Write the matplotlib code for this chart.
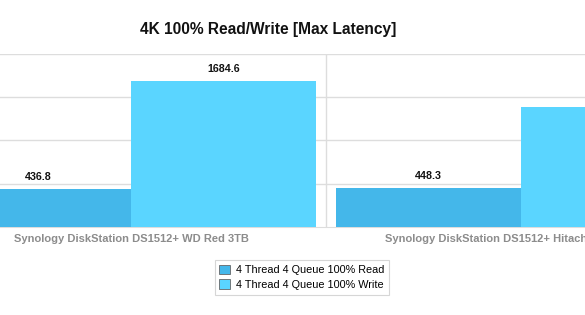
import matplotlib.pyplot as plt

# données
categories = ['Synology DiskStation DS1512+ WD Red 3TB',
              'Synology DiskStation DS1512+ Hitachi 7K3000 3TB']
read_values = [436.8, 448.3]
write_values = [1684.6, 1384.0]
series_names = ['4 Thread 4 Queue 100% Read', '4 Thread 4 Queue 100% Write']
colors = ['#44b7ea', '#5ad5ff']

plt.rcParams['font.family'] = ['Liberation Sans', 'DejaVu Sans']

fig = plt.figure(figsize=(5.85, 3.15), dpi=100)
ax = fig.add_axes([0, 0.2794, 1, 0.5492])

x = list(range(len(categories)))
w = 0.474
bars_r = ax.bar([i - w / 2 for i in x], read_values, width=w, color=colors[0],
                label=series_names[0], zorder=3)
bars_w = ax.bar([i + w / 2 for i in x], write_values, width=w, color=colors[1],
                label=series_names[1], zorder=3)

for bars in (bars_r, bars_w):
    for b in bars:
        ax.annotate(f'{b.get_height():.1f}', (b.get_x() + b.get_width() / 2, b.get_height()),
                    xytext=(0, 8.5), textcoords='offset points', ha='center', va='center',
                    fontsize=7.7, fontweight='bold', color='#111111')

ax.set_xlim(-0.336, 1.164)
ax.set_ylim(0, 2000)
ax.set_yticks([500, 1000, 1500, 2000])
ax.yaxis.grid(True, color='#dddddd', linewidth=1, zorder=0)
ax.axvline(0.5, color='#dddddd', linewidth=1, zorder=0)
ax.tick_params(axis='y', left=False, labelleft=False)
ax.set_xticks(x)
ax.set_xticklabels(categories, fontsize=8, fontweight='bold', color='#8c8c8c')
ax.tick_params(axis='x', length=0, pad=5)
for s in ['left', 'right', 'top']:
    ax.spines[s].set_visible(False)
ax.spines['bottom'].set_color('#dddddd')

fig.text(0.458, 0.905, '4K 100% Read/Write [Max Latency]', ha='center', va='center',
         fontsize=11.2, fontweight='bold', color='#111111')

leg = fig.legend(handles=[bars_r, bars_w], loc='center', bbox_to_anchor=(0.516, 0.12),
                 fontsize=7.85, frameon=True, fancybox=False, edgecolor='#cccccc',
                 handlelength=1.0, handleheight=1.0, handletextpad=0.5,
                 borderpad=0.45, labelspacing=0.35)
leg.get_frame().set_linewidth(0.8)
for h in leg.legend_handles:
    h.set_edgecolor('#666666')
    h.set_linewidth(0.6)

plt.savefig('out.png', dpi=100)
